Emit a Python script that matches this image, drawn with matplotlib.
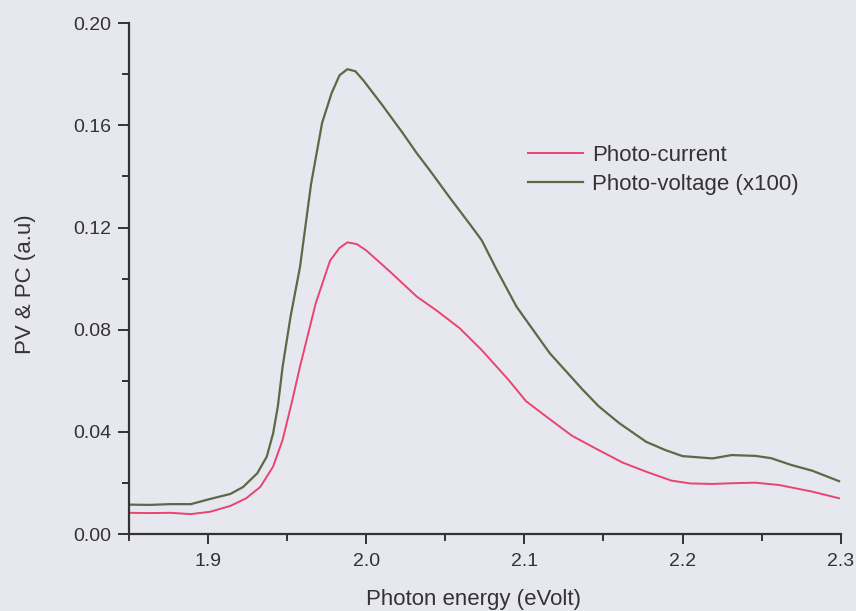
import matplotlib
matplotlib.use("Agg")
import matplotlib.pyplot as plt
from matplotlib.ticker import MultipleLocator

plt.rcParams['font.family'] = ['Liberation Sans', 'DejaVu Sans']

# Photo-current series
pc_energy = [1.850, 1.863, 1.876, 1.889, 1.901, 1.914, 1.924, 1.933, 1.941, 1.947,
             1.953, 1.958, 1.968, 1.977, 1.983, 1.988, 1.994, 2.000, 2.015, 2.032,
             2.044, 2.059, 2.073, 2.090, 2.101, 2.114, 2.130, 2.145, 2.162, 2.177,
             2.193, 2.205, 2.219, 2.232, 2.246, 2.261, 2.282, 2.299]
pc_values = [0.0083, 0.0082, 0.0083, 0.0078, 0.0087, 0.0110, 0.0140, 0.0185, 0.0264, 0.0368,
             0.0520, 0.0655, 0.0904, 0.1070, 0.1120, 0.1142, 0.1135, 0.1110, 0.1027, 0.0929,
             0.0877, 0.0806, 0.0720, 0.0603, 0.0520, 0.0459, 0.0385, 0.0335, 0.0280, 0.0244,
             0.0209, 0.0198, 0.0196, 0.0199, 0.0201, 0.0192, 0.0166, 0.0140]

# Photo-voltage (x100) series
pv_energy = [1.850, 1.863, 1.876, 1.889, 1.901, 1.914, 1.922, 1.931, 1.937, 1.941,
             1.944, 1.947, 1.952, 1.958, 1.965, 1.972, 1.978, 1.983, 1.988, 1.993,
             1.998, 2.010, 2.023, 2.032, 2.040, 2.053, 2.065, 2.073, 2.082, 2.095,
             2.116, 2.137, 2.147, 2.160, 2.177, 2.189, 2.200, 2.219, 2.231, 2.246,
             2.256, 2.269, 2.282, 2.299]
pv_values = [0.0115, 0.0114, 0.0117, 0.0117, 0.0137, 0.0157, 0.0184, 0.0238, 0.0303, 0.0394,
             0.0500, 0.0654, 0.0850, 0.1045, 0.1370, 0.1610, 0.1726, 0.1796, 0.1820, 0.1812,
             0.1777, 0.1680, 0.1570, 0.1490, 0.1425, 0.1315, 0.1217, 0.1150, 0.1040, 0.0890,
             0.0708, 0.0564, 0.0500, 0.0434, 0.0361, 0.0329, 0.0305, 0.0296, 0.0309, 0.0306,
             0.0297, 0.0270, 0.0248, 0.0207]

x_ticks = [1.9, 2.0, 2.1, 2.2, 2.3]
y_ticks = [0.00, 0.04, 0.08, 0.12, 0.16, 0.20]

bg = '#e7e7ef'
fig = plt.figure(figsize=(8.56, 6.11), dpi=100, facecolor=bg)
ax = fig.add_axes([0.151, 0.126, 0.831, 0.836], facecolor=bg)

ax.plot(pc_energy, pc_values, color='#e8456e', lw=1.4, label='Photo-current')
ax.plot(pv_energy, pv_values, color='#5b6a44', lw=1.6, label='Photo-voltage (x100)')

ax.set_xlim(1.85, 2.3)
ax.set_ylim(0, 0.2)
ax.set_xticks(x_ticks)
ax.set_xticklabels([f'{v:.1f}' for v in x_ticks])
ax.set_yticks(y_ticks)
ax.set_yticklabels([f'{v:.2f}' for v in y_ticks])
ax.xaxis.set_minor_locator(MultipleLocator(0.05))
ax.yaxis.set_minor_locator(MultipleLocator(0.02))

for s in ['top', 'right']:
    ax.spines[s].set_visible(False)
for s in ['left', 'bottom']:
    ax.spines[s].set_color('#333333')
    ax.spines[s].set_linewidth(1.6)

ax.tick_params(axis='both', which='major', direction='out', length=8, width=1.4,
               colors='#333333', labelsize=14, pad=5)
ax.tick_params(axis='both', which='minor', direction='out', length=5, width=1.4,
               colors='#333333')
ax.tick_params(axis='x', which='major', length=7.5, pad=6)

ax.set_xlabel('Photon energy (eVolt)', fontsize=16, color='#333333', labelpad=14)
ax.set_ylabel('PV & PC (a.u)', fontsize=16, color='#333333', labelpad=27)
ax.xaxis.label.set_x(0.484)
ax.yaxis.label.set_y(0.49)

leg = ax.legend(loc='upper left', bbox_to_anchor=(0.532, 0.801), frameon=False,
                fontsize=16, handlelength=2.5, handletextpad=0.4, labelspacing=0.36)
for t in leg.get_texts():
    t.set_color('#333333')

fig.savefig('out.png', dpi=100, facecolor=bg)
